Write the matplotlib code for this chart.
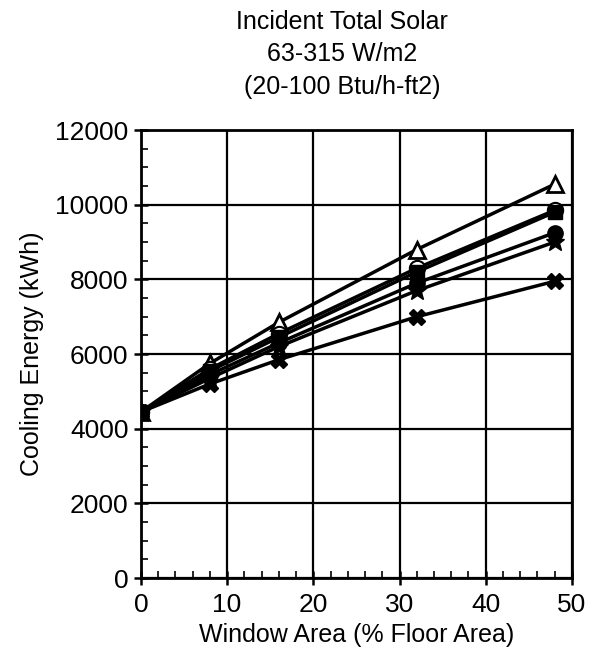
import matplotlib
matplotlib.use("Agg")
import matplotlib.pyplot as plt
from matplotlib.ticker import MultipleLocator

plt.rcParams['font.family'] = ['Liberation Sans', 'DejaVu Sans']

window_area = [0, 8, 16, 32, 48]

# cooling energy (kWh) per series
tri_open = [4450, 5750, 6850, 8800, 10550]
circ_half = [4450, 5600, 6550, 8300, 9850]
square = [4450, 5550, 6450, 8200, 9800]
circ_fill = [4450, 5450, 6300, 7900, 9250]
star = [4450, 5350, 6200, 7700, 9000]
cross = [4450, 5200, 5850, 7000, 7950]

fig = plt.figure(figsize=(5.97, 6.60), dpi=100)
ax = fig.add_axes([0.236, 0.124, 0.722, 0.679])

lw = 2.5
ax.plot(window_area, tri_open, color='black', lw=lw, marker='^', ms=12,
        markerfacecolor='white', markeredgewidth=2, zorder=3)
ax.plot(window_area, cross, color='black', lw=lw, marker='X', ms=12, zorder=3)
ax.plot(window_area, star, color='black', lw=lw, marker='*', ms=14, zorder=3)
ax.plot(window_area, circ_fill, color='black', lw=lw, marker='o', ms=11, zorder=3)
ax.plot(window_area, circ_half, color='black', lw=lw, marker='o', ms=11,
        fillstyle='bottom', markerfacecoloralt='white', markeredgewidth=1.5, zorder=4)
ax.plot(window_area, square, color='black', lw=lw, marker='s', ms=10, zorder=5)

ax.set_xlim(0, 50)
ax.set_ylim(0, 12000)
ax.xaxis.set_major_locator(MultipleLocator(10))
ax.xaxis.set_minor_locator(MultipleLocator(2))
ax.yaxis.set_major_locator(MultipleLocator(2000))
ax.yaxis.set_minor_locator(MultipleLocator(500))
ax.tick_params(which='major', direction='inout', length=10, width=1.8, labelsize=19)
ax.tick_params(axis='x', which='major', pad=6)
ax.tick_params(axis='y', which='major', pad=4)
ax.tick_params(which='minor', direction='in', length=5, width=1.2)
ax.grid(True, which='major', color='black', lw=1.6)
for s in ax.spines.values():
    s.set_linewidth(2)

ax.set_xlabel('Window Area (% Floor Area)', fontsize=18, labelpad=4)
ax.set_ylabel('Cooling Energy (kWh)', fontsize=18, labelpad=8)
fig.text(0.573, 0.985, 'Incident Total Solar\n63-315 W/m2\n(20-100 Btu/h-ft2)',
         fontsize=18, ha='center', va='top', linespacing=1.45)

fig.savefig('out.png', dpi=100)
